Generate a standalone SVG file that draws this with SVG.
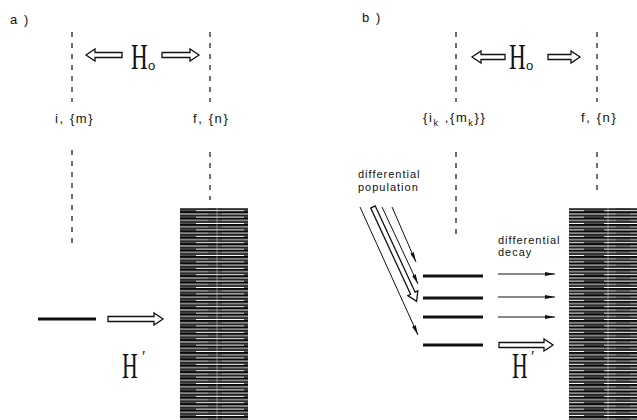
<svg xmlns="http://www.w3.org/2000/svg" width="637" height="420" viewBox="0 0 637 420">
<style>
.dash{stroke:#111;stroke-width:1.2;stroke-dasharray:5,6;fill:none}
.lbl{font-family:"Liberation Sans","DejaVu Sans",sans-serif;font-size:13px;letter-spacing:1.6px;fill:#111}
.sm{font-family:"Liberation Sans","DejaVu Sans",sans-serif;font-size:11px;letter-spacing:1px;fill:#111}
.big{font-family:"Liberation Serif","DejaVu Serif",serif;font-size:35px;fill:#111}
.sub{font-family:"Liberation Sans","DejaVu Sans",sans-serif;font-size:13px;fill:#111}
.prime{font-family:"Liberation Serif","DejaVu Serif",serif;font-size:16px;fill:#111}
.hollow{fill:#fff;stroke:#111;stroke-width:1.3}
.level{stroke:#111;stroke-width:2.8}
.thin{stroke:#111;stroke-width:1;fill:none}
</style>
<defs>
<pattern id="stripes" width="68" height="6.4" patternUnits="userSpaceOnUse">
<rect width="68" height="6.4" fill="#fff"/>
<rect y="0" width="68" height="2.3" fill="#0a0a0a"/>
<rect y="3.2" width="68" height="2.2" fill="#1e1e1e"/>
<rect x="4" y="2.3" width="14" height="0.9" fill="#444"/>
<rect x="40" y="5.4" width="20" height="1" fill="#555"/>
</pattern>
<marker id="ah" viewBox="0 0 10 4" refX="10" refY="2" markerWidth="10" markerHeight="4" markerUnits="userSpaceOnUse" orient="auto">
<path d="M0,0 L10,2 L0,4 Z" fill="#111"/>
</marker>
</defs>

<g id="panel-a-label"><text class="lbl" x="10" y="24">a )</text></g>
<g id="panel-b-label"><text class="lbl" x="362" y="22">b )</text></g>

<g id="connectors">
<line class="dash" x1="72" y1="32" x2="72" y2="102"/>
<line class="dash" x1="72" y1="150" x2="72" y2="243"/>
<line class="dash" x1="210" y1="32" x2="210" y2="102"/>
<line class="dash" x1="210" y1="152" x2="210" y2="200"/>
<line class="dash" x1="456" y1="32" x2="456" y2="102"/>
<line class="dash" x1="456" y1="152" x2="456" y2="240"/>
<line class="dash" x1="597" y1="32" x2="597" y2="102"/>
<line class="dash" x1="597" y1="152" x2="597" y2="196"/>
<path class="hollow" d="M122,52.5 H95 V49 L86,55 L95,61 V57.5 H122 Z"/>
<path class="hollow" d="M162,52.5 H190 V49 L199,55 L190,61 V57.5 H162 Z"/>
<path class="hollow" d="M505,54.5 H481 V51 L472,57 L481,63 V59.5 H505 Z"/>
<path class="hollow" d="M548,54.5 H571 V51 L580,57 L571,63 V59.5 H548 Z"/>
<path class="hollow" d="M108,316.5 H154 V313 L163,319 L154,325 V321.5 H108 Z"/>
<path class="hollow" d="M499,342.5 H544 V339 L553,345 L544,351 V347.5 H499 Z"/>
<line class="thin" x1="498" y1="274" x2="555" y2="274" marker-end="url(#ah)"/>
<line class="thin" x1="498" y1="297" x2="555" y2="297" marker-end="url(#ah)"/>
<line class="thin" x1="498" y1="317" x2="555" y2="317" marker-end="url(#ah)"/>
<line class="thin" x1="392" y1="207" x2="416" y2="262" marker-end="url(#ah)"/>
<line class="thin" x1="382" y1="207" x2="418" y2="284" marker-end="url(#ah)"/>
<line class="thin" x1="360" y1="207" x2="418" y2="335" marker-end="url(#ah)"/>
<g transform="translate(373,207) rotate(65.2)">
<path class="hollow" d="M0,-2.5 H95 V-5.5 L104,0 L95,5.5 V2.5 H0 Z"/>
</g>
</g>

<g id="H0-a">
<text class="big" transform="translate(131,69) scale(0.66,1)">H</text>
<text class="sub" x="148" y="70">o</text>
</g>
<g id="H0-b">
<text class="big" transform="translate(509,69) scale(0.66,1)">H</text>
<text class="sub" x="526" y="70">o</text>
</g>

<g id="state-i-a"><text class="lbl" x="55" y="123">i, {m}</text></g>
<g id="state-f-a"><text class="lbl" x="193" y="123">f, {n}</text></g>
<g id="state-i-b"><text class="lbl" x="423" y="122">{i<tspan font-size="9" dy="4">k</tspan><tspan dy="-4"> ,{m</tspan><tspan font-size="9" dy="4">k</tspan><tspan dy="-4">}}</tspan></text></g>
<g id="state-f-b"><text class="lbl" x="581" y="122">f, {n}</text></g>

<g id="continuum-a">
<rect x="180" y="208" width="68" height="212" fill="url(#stripes)"/>
<line x1="217" y1="208" x2="217" y2="420" stroke="#fff" stroke-width="0.8" opacity="0.5"/>
</g>
<g id="continuum-b">
<rect x="569" y="208" width="68" height="212" fill="url(#stripes)"/>
<line x1="608" y1="208" x2="608" y2="420" stroke="#fff" stroke-width="0.8" opacity="0.5"/>
</g>

<g id="level-a"><line class="level" x1="38" y1="319" x2="96" y2="319"/></g>
<g id="H-prime-a">
<text class="big" transform="translate(122,378) scale(0.62,1)">H</text>
<text class="prime" x="142" y="362">′</text>
</g>

<g id="levels-b">
<line class="level" x1="423" y1="276" x2="483" y2="276"/>
<line class="level" x1="423" y1="298" x2="483" y2="298"/>
<line class="level" x1="423" y1="317" x2="483" y2="317"/>
<line class="level" x1="423" y1="345" x2="483" y2="345"/>
</g>
<g id="H-prime-b">
<text class="big" transform="translate(512,378) scale(0.62,1)">H</text>
<text class="prime" x="531" y="362">′</text>
</g>

<g id="diff-population"><text class="sm" x="358" y="178">differential</text><text class="sm" x="358" y="191">population</text></g>
<g id="diff-decay"><text class="sm" x="498" y="244">differential</text><text class="sm" x="498" y="256">decay</text></g>
</svg>
